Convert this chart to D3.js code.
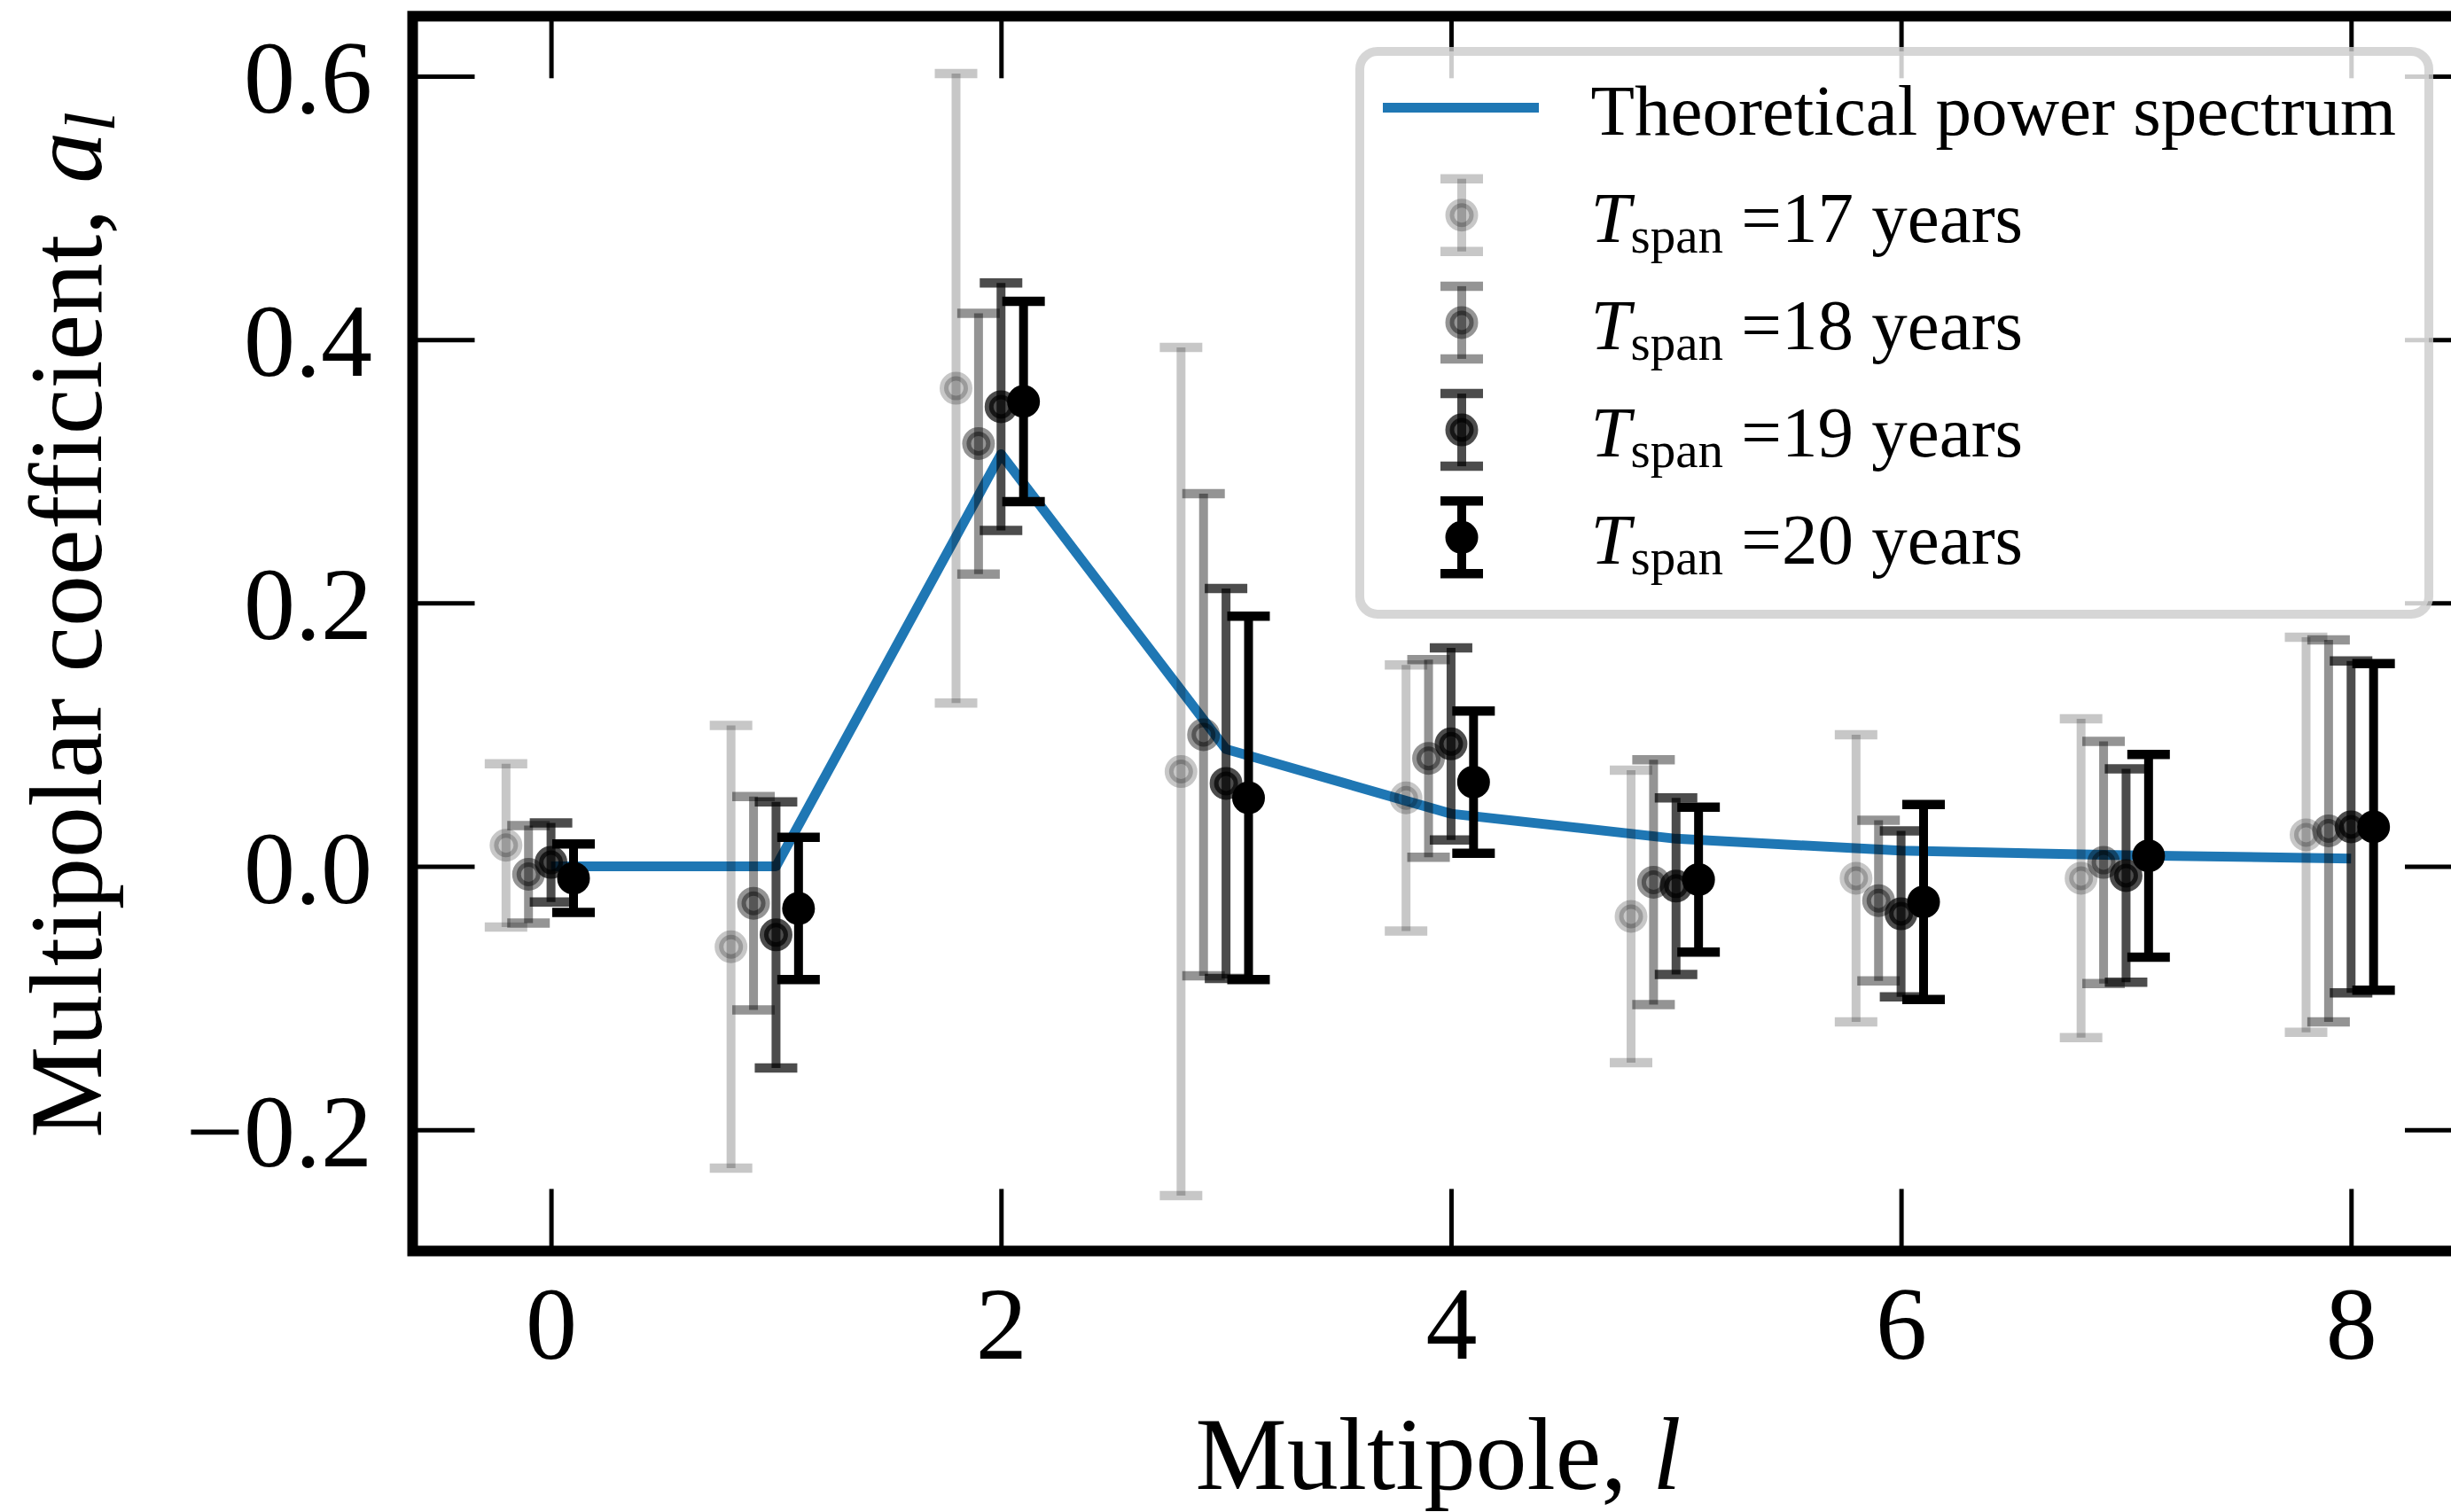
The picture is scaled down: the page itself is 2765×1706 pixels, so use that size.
<!DOCTYPE html>
<html>
<head>
<meta charset="utf-8">
<script src="https://cdn.jsdelivr.net/npm/d3@7"></script>
<style>
  body { margin: 0; background: #fff; }
  svg text { font-family: "Liberation Serif", "Times New Roman", serif; }
</style>
</head>
<body>
<div id="chart"></div>
<script>
// multipole index and theory curve
const multipoles = [0, 1, 2, 3, 4, 5, 6, 7, 8];
const theory = [0, 0, 0.313, 0.089, 0.040, 0.021, 0.012, 0.0085, 0.006];

// measured coefficients + 1-sigma errors for each span
const spans = [17, 18, 19, 20];
const offsets = [-0.2, -0.1, 0, 0.1];
const alphas = [0.22, 0.42, 0.7, 1];

const coef17 = [0.016, -0.061, 0.363, 0.072, 0.052, -0.038, -0.009, -0.009, 0.024];
const err17  = [0.062, 0.168, 0.239, 0.322, 0.101, 0.111, 0.109, 0.121, 0.150];
const coef18 = [-0.006, -0.028, 0.321, 0.100, 0.082, -0.012, -0.026, 0.003, 0.027];
const err18  = [0.037, 0.081, 0.099, 0.183, 0.075, 0.093, 0.061, 0.092, 0.145];
const coef19 = [0.003, -0.052, 0.349, 0.063, 0.093, -0.015, -0.036, -0.007, 0.030];
const err19  = [0.030, 0.101, 0.094, 0.148, 0.073, 0.067, 0.063, 0.081, 0.126];
const coef20 = [-0.009, -0.032, 0.353, 0.052, 0.064, -0.010, -0.027, 0.008, 0.030];
const err20  = [0.026, 0.054, 0.076, 0.138, 0.054, 0.055, 0.074, 0.077, 0.124];

const xTicks = [0, 2, 4, 6, 8];
const yTicks = [-0.2, 0, 0.2, 0.4, 0.6];

const coefs = [coef17, coef18, coef19, coef20];
const errs = [err17, err18, err19, err20];

const width = 2765;
const height = 1706;

const svg = d3.select("#chart")
    .append("svg")
    .attr("width", width)
    .attr("height", height);

svg.append("rect")
    .attr("width", width)
    .attr("height", height)
    .attr("fill", "white");

const plot = { left: 465.5, right: 2783, top: 18.3, bottom: 1411.5 };

const xScale = d3.scaleLinear()
    .domain([-0.615, 8.515])
    .range([plot.left, plot.right]);

const yScale = d3.scaleLinear()
    .domain([-0.292, 0.6455])
    .range([plot.bottom, plot.top]);

const tickLen = 70;
const tickFont = 116;

// axes with inward ticks on all four sides
const xBottom = svg.append("g")
    .attr("transform", `translate(0, ${plot.bottom})`)
    .call(d3.axisBottom(xScale).tickValues(xTicks).tickSize(-tickLen).tickFormat(d3.format("d")));
xBottom.selectAll("text")
    .attr("y", 121.5)
    .attr("dy", "0")
    .style("font-size", tickFont + "px")
    .attr("fill", "black");

const yLeft = svg.append("g")
    .attr("transform", `translate(${plot.left}, 0)`)
    .call(d3.axisLeft(yScale).tickValues(yTicks).tickSize(-tickLen).tickFormat(d3.format(".1f")));
yLeft.selectAll("text")
    .attr("x", -45.5)
    .attr("dy", "0.35em")
    .style("font-size", tickFont + "px")
    .attr("fill", "black");

svg.append("g")
    .attr("transform", `translate(0, ${plot.top})`)
    .call(d3.axisTop(xScale).tickValues(xTicks).tickSize(-tickLen).tickFormat(""));

svg.append("g")
    .attr("transform", `translate(${plot.right}, 0)`)
    .call(d3.axisRight(yScale).tickValues(yTicks).tickSize(-tickLen).tickFormat(""));

svg.selectAll(".domain").remove();
svg.selectAll(".tick line")
    .attr("stroke", "black")
    .attr("stroke-width", 5);

// theoretical curve
const theoryLine = d3.line()
    .x(d => xScale(d.l))
    .y(d => yScale(d.v));

svg.append("path")
    .datum(multipoles.map((l, i) => ({ l: l, v: theory[i] })))
    .attr("fill", "none")
    .attr("stroke", "#1f77b4")
    .attr("stroke-width", 11)
    .attr("stroke-linejoin", "round")
    .attr("d", theoryLine);

// error bars
const capHalf = 24;
const barW = 10;
const capW = 10.5;
const markR = 13.5;
const markEdge = 10;

spans.forEach((span, si) => {
    const pts = multipoles.map((l, j) => ({ x: l + offsets[si], v: coefs[si][j], e: errs[si][j] }));
    const a = alphas[si];
    const g = svg.append("g").attr("class", "span-" + span);

    g.selectAll(".bar")
        .data(pts)
        .enter()
        .append("line")
        .attr("x1", d => xScale(d.x))
        .attr("x2", d => xScale(d.x))
        .attr("y1", d => yScale(d.v - d.e))
        .attr("y2", d => yScale(d.v + d.e))
        .attr("stroke", "black")
        .attr("stroke-opacity", a)
        .attr("stroke-width", barW);

    ["top", "bot"].forEach(side => {
        g.selectAll(".cap-" + side)
            .data(pts)
            .enter()
            .append("line")
            .attr("x1", d => xScale(d.x) - capHalf)
            .attr("x2", d => xScale(d.x) + capHalf)
            .attr("y1", d => yScale(side === "top" ? d.v + d.e : d.v - d.e))
            .attr("y2", d => yScale(side === "top" ? d.v + d.e : d.v - d.e))
            .attr("stroke", "black")
            .attr("stroke-opacity", a)
            .attr("stroke-width", capW);
    });

    g.selectAll(".pt")
        .data(pts)
        .enter()
        .append("circle")
        .attr("cx", d => xScale(d.x))
        .attr("cy", d => yScale(d.v))
        .attr("r", markR)
        .attr("fill", "black")
        .attr("fill-opacity", a)
        .attr("stroke", "black")
        .attr("stroke-opacity", a)
        .attr("stroke-width", markEdge);
});

// frame
svg.append("rect")
    .attr("x", plot.left)
    .attr("y", plot.top)
    .attr("width", plot.right - plot.left)
    .attr("height", plot.bottom - plot.top)
    .attr("fill", "none")
    .attr("stroke", "black")
    .attr("stroke-width", 12);

// axis labels
svg.append("text")
    .attr("x", 1622.5)
    .attr("y", 1680)
    .attr("text-anchor", "middle")
    .style("font-size", "116px")
    .call(t => {
        t.append("tspan").text("Multipole, ");
        t.append("tspan").style("font-style", "italic").text("l");
    });

svg.append("text")
    .attr("transform", "translate(114, 705) rotate(-90)")
    .attr("text-anchor", "middle")
    .style("font-size", "116px")
    .call(t => {
        t.append("tspan").text("Multipolar coefficient, ");
        t.append("tspan").style("font-style", "italic").text("a");
        t.append("tspan").style("font-style", "italic").style("font-size", "81px").attr("dy", 15).text("l");
    });

// legend
const legend = svg.append("g");
const legendFont = 81;
const rowBase = d3.range(5).map(i => 151.5 + i * 121.2);

legend.append("rect")
    .attr("x", 1534)
    .attr("y", 58)
    .attr("width", 1206)
    .attr("height", 635)
    .attr("rx", 20)
    .attr("fill", "white")
    .attr("fill-opacity", 0.8)
    .attr("stroke", "#cccccc")
    .attr("stroke-opacity", 0.8)
    .attr("stroke-width", 10);

legend.append("line")
    .attr("x1", 1560)
    .attr("x2", 1736)
    .attr("y1", rowBase[0] - 30)
    .attr("y2", rowBase[0] - 30)
    .attr("stroke", "#1f77b4")
    .attr("stroke-width", 11);

legend.append("text")
    .attr("x", 1794.5)
    .attr("y", rowBase[0])
    .style("font-size", legendFont + "px")
    .text("Theoretical power spectrum");

spans.forEach((span, si) => {
    const a = alphas[si];
    const base = rowBase[si + 1];
    const cy = base - 30;
    const cx = 1649;
    legend.append("line")
        .attr("x1", cx).attr("x2", cx)
        .attr("y1", cy - 41).attr("y2", cy + 41)
        .attr("stroke", "black").attr("stroke-opacity", a).attr("stroke-width", barW);
    [-41, 41].forEach(off => {
        legend.append("line")
            .attr("x1", cx - capHalf).attr("x2", cx + capHalf)
            .attr("y1", cy + off).attr("y2", cy + off)
            .attr("stroke", "black").attr("stroke-opacity", a).attr("stroke-width", capW);
    });
    legend.append("circle")
        .attr("cx", cx).attr("cy", cy).attr("r", markR)
        .attr("fill", "black").attr("fill-opacity", a)
        .attr("stroke", "black").attr("stroke-opacity", a).attr("stroke-width", markEdge);

    const t = legend.append("text")
        .attr("x", 1794.5)
        .attr("y", base)
        .style("font-size", legendFont + "px");
    t.append("tspan").style("font-style", "italic").text("T");
    t.append("tspan").style("font-size", "57px").attr("dy", 12).text("span");
    t.append("tspan").attr("dy", -12).text(" =" + span + " years");
});
</script>
</body>
</html>
